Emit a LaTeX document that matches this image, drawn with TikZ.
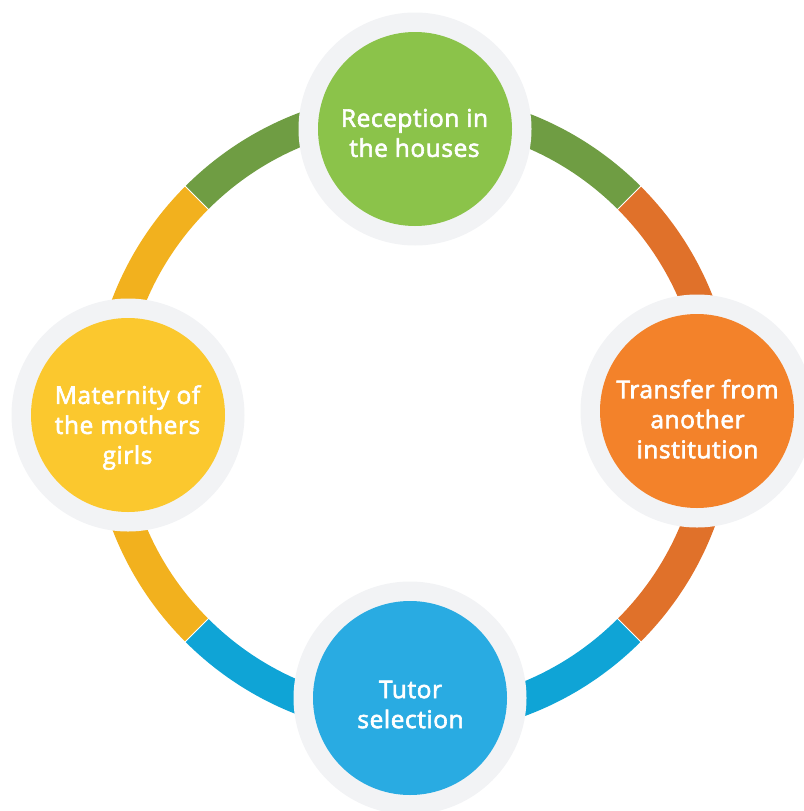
\documentclass[tikz,border=0pt]{standalone}
\usepackage{fontspec}
\setmainfont{Open Sans}
\newfontfamily\labfont{Open Sans}[FakeBold=2.5,LetterSpace=2.5]
\usetikzlibrary{calc}
\definecolor{ringgreen}{HTML}{6F9D43}
\definecolor{ringyellow}{HTML}{F2B11E}
\definecolor{ringorange}{HTML}{E0712A}
\definecolor{ringblue}{HTML}{0FA4D6}
\definecolor{cgreen}{HTML}{8BC34A}
\definecolor{cyellow}{HTML}{FBC82E}
\definecolor{corange}{HTML}{F3822A}
\definecolor{cblue}{HTML}{29ABE2}
\definecolor{halo}{HTML}{F2F3F5}
\tikzset{
  seg/.style={line width=32.5pt, line cap=butt},
  sep/.style={draw=white, line width=0.9pt},
  halodisc/.style={circle, fill=halo, minimum size=233pt, inner sep=0pt},
  disc/.style={circle, minimum size=194pt, inner sep=0pt},
  lab/.style={text=white, align=center, inner sep=0pt, font=\labfont\fontsize{24.4}{30}\selectfont}
}
\begin{document}
\begin{tikzpicture}[x=1pt,y=-1pt]
\useasboundingbox (0,0) rectangle (803,811);
\coordinate (O) at (413,414);
% ring segments
\draw[seg, ringgreen]  ($(O)+(45:305.75pt)$)  arc[start angle=45,  end angle=135, radius=305.75pt];
\draw[seg, ringyellow] ($(O)+(135:305.75pt)$) arc[start angle=135, end angle=225, radius=305.75pt];
\draw[seg, ringblue]   ($(O)+(225:305.75pt)$) arc[start angle=225, end angle=315, radius=305.75pt];
\draw[seg, ringorange] ($(O)+(315:305.75pt)$) arc[start angle=315, end angle=405, radius=305.75pt];
% separators
\foreach \a in {45,135,225,315}{
  \draw[sep] ($(O)+(\a:287pt)$) -- ($(O)+(\a:325pt)$);
}
% circles
\node[halodisc] (topH) at (415,129) {};
\node[disc, fill=cgreen] (top) at (415,129) {};
\node[halodisc] (leftH) at (128,415) {};
\node[disc, fill=cyellow] (left) at (128,415) {};
\node[halodisc] (rightH) at (697,411) {};
\node[disc, fill=corange] (right) at (697,411) {};
\node[halodisc] (botH) at (410,698) {};
\node[disc, fill=cblue] (bot) at (410,698) {};
% labels
\node[lab] (topT) at (414.5,133) {Reception in\\the houses};
\node[lab] (leftT) at (127.5,427.5) {Maternity of\\the mothers\\girls};
\node[lab] (rightT) at (697.5,419) {Transfer from\\another\\institution};
\node[lab] (botT) at (410.5,704.5) {Tutor\\selection};
\end{tikzpicture}
\end{document}
